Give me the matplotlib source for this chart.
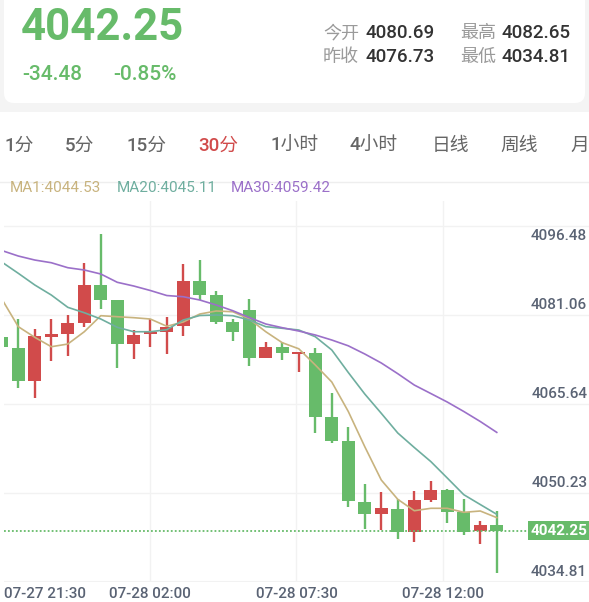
import matplotlib
matplotlib.use("Agg")
import matplotlib.pyplot as plt
from matplotlib.patches import Rectangle, FancyBboxPatch

plt.rcParams['font.family'] = ['Roboto', 'Noto Sans CJK SC', 'DejaVu Sans']

W, H = 589, 602

# 30-minute candles, oldest first
opens = [4076.13, 4074.21, 4068.39, 4076.13, 4076.55, 4078.57, 4085.16, 4082.49, 4074.85, 4076.55,
         4077.00, 4078.05, 4085.86, 4083.41, 4078.70, 4080.79, 4072.46, 4074.28, 4073.06, 4073.33,
         4062.05, 4057.86, 4047.31, 4045.22, 4046.09, 4042.07, 4047.56, 4049.30, 4045.46, 4042.25,
         4043.24]
closes = [4074.28, 4068.39, 4076.25, 4076.60, 4078.52, 4085.16, 4082.54, 4074.85, 4076.43, 4076.95,
          4077.82, 4085.86, 4083.41, 4078.75, 4076.90, 4072.36, 4074.28, 4073.28, 4073.46, 4062.16,
          4057.97, 4047.38, 4045.22, 4046.16, 4042.07, 4047.66, 4049.30, 4045.57, 4042.07, 4043.24,
          4042.25]
highs = [4076.13, 4079.17, 4077.47, 4079.27, 4079.92, 4088.95, 4094.01, 4082.49, 4077.25, 4079.17,
         4079.52, 4088.77, 4089.52, 4084.11, 4079.17, 4082.71, 4075.15, 4075.15, 4073.46, 4074.21,
         4066.24, 4060.31, 4050.35, 4049.01, 4047.73, 4049.18, 4050.93, 4049.48, 4047.78, 4043.89,
         4045.74]
lows = [4074.28, 4067.22, 4065.48, 4071.94, 4072.76, 4077.88, 4080.91, 4070.72, 4072.23, 4074.28,
        4073.06, 4076.25, 4082.49, 4078.35, 4075.43, 4071.06, 4072.46, 4072.01, 4070.02, 4059.26,
        4057.62, 4046.44, 4042.55, 4042.37, 4040.75, 4040.33, 4047.31, 4043.54, 4041.50, 4039.93,
        4034.81]

ma1 = [4082.71, 4077.88, 4076.02, 4074.38, 4074.85, 4077.00, 4079.80, 4079.62, 4079.45, 4079.22,
       4077.95, 4078.70, 4080.09, 4080.62, 4080.49, 4079.22, 4077.00, 4075.08, 4074.02, 4071.19,
       4068.22, 4063.07, 4056.92, 4051.10, 4047.73, 4045.74, 4046.16, 4046.16, 4045.46, 4045.69,
       4044.53]
ma20 = [4089.17, 4087.20, 4085.16, 4083.41, 4081.26, 4080.32, 4079.22, 4077.77, 4077.00, 4077.00,
        4077.35, 4079.05, 4079.83, 4079.92, 4079.80, 4079.05, 4077.88, 4077.60, 4077.30, 4076.13,
        4073.81, 4069.88, 4066.12, 4062.75, 4059.31, 4056.78, 4054.33, 4051.45, 4048.54, 4046.82,
        4045.11]
ma30 = [4091.18, 4090.22, 4089.52, 4089.05, 4088.18, 4087.78, 4087.08, 4085.63, 4084.98, 4084.20,
        4083.32, 4083.11, 4082.54, 4081.66, 4080.67, 4079.48, 4078.35, 4077.70, 4077.12, 4076.43,
        4075.55, 4074.54, 4073.11, 4071.54, 4069.67, 4067.69, 4066.21, 4064.72, 4063.07, 4061.32,
        4059.42]

last_price = 4042.25
grid_vals = [4095.46, 4079.92, 4064.38, 4048.83]
y_labels = ['4096.48', '4081.06', '4065.64', '4050.23', '4034.81']
x_grid = [8.98, 17.86, 26.74]
x_labels = ['07-27 21:30', '07-28 02:00', '07-28 07:30', '07-28 12:00']

tabs = ['1分', '5分', '15分', '30分', '1小时', '4小时', '日线', '周线', '月']
tab_x = [4, 65, 126, 198, 270, 350, 432, 500, 570]

RED = '#d14b4b'
GREEN = '#67bb6a'
C_MA1, C_MA20, C_MA30 = '#c8b37e', '#6fae9f', '#9b70c9'
AXIS_TXT = '#5a6374'

fig = plt.figure(figsize=(W / 100, H / 100), dpi=100, facecolor='white')

# background / header drawn in pixel coords
bg = fig.add_axes([0, 0, 1, 1])
bg.set_xlim(0, W)
bg.set_ylim(H, 0)
bg.axis('off')
bg.add_patch(Rectangle((0, 0), W, 112, fc='#f4f4f4', ec='none'))
bg.add_patch(FancyBboxPatch((4, -20), 581, 123, boxstyle='round,pad=0,rounding_size=10',
                            fc='white', ec='none'))

bg.text(21, 28, '4042.25', fontsize=31.5, fontweight='bold', color=GREEN, va='center', ha='left')
bg.text(22, 74, '-34.48', fontsize=15, fontweight='medium', color=GREEN, va='center')
bg.text(113, 74, '-0.85%', fontsize=15, fontweight='medium', color=GREEN, va='center')

stats = [('今开', '4080.69', 323, 33), ('最高', '4082.65', 460, 33),
         ('昨收', '4076.73', 323, 57), ('最低', '4034.81', 460, 57)]
for name, val, x, y in stats:
    bg.text(x, y, name, fontsize=13, color='#9a9a9a', va='center')
    bg.text(x + 42, y, val, fontsize=13.5, fontweight='medium', color='#333333', va='center')

for t, x in zip(tabs, tab_x):
    bg.text(x, 146, t, fontsize=13.5, fontweight='medium',
            color=RED if t == '30分' else '#666666', va='center')

bg.plot([0, W], [182, 182], color='#eeeeee', lw=1)
bg.text(10, 188, 'MA1:4044.53', fontsize=11, color=C_MA1, va='center')
bg.text(117, 188, 'MA20:4045.11', fontsize=11, color=C_MA20, va='center')
bg.text(231, 188, 'MA30:4059.42', fontsize=11, color=C_MA30, va='center')

# chart area
ax = fig.add_axes([4 / W, (H - 582) / H, (W - 4) / W, (582 - 201) / H])
ax.set_facecolor('none')
ax.set_xlim(0.133, 35.59)
ax.set_ylim(4033.29, 4099.83)
for s in ax.spines.values():
    s.set_visible(False)
ax.set_xticks([])
ax.set_yticks([])

for v in grid_vals:
    ax.axhline(v, color='#f2f2f2', lw=1, zorder=0)
ax.axhline(4033.29, color='#f2f2f2', lw=1.5, zorder=0)
for xg in x_grid:
    ax.axvline(xg, color='#f2f2f2', lw=1, zorder=0)

idx = list(range(len(opens)))
for i in idx:
    o, c = opens[i], closes[i]
    col = RED if c > o else GREEN
    ax.vlines(i, lows[i], highs[i], color=col, lw=1.7, zorder=2)
    ax.bar(i, max(abs(c - o), 0.35), bottom=min(o, c), width=0.79, color=col, zorder=3)

ax.plot(idx, ma1, color=C_MA1, lw=1.2, zorder=4)
ax.plot(idx, ma20, color=C_MA20, lw=1.2, zorder=4)
ax.plot(idx, ma30, color=C_MA30, lw=1.2, zorder=4)

ax.axhline(last_price, xmax=(531 - 4) / (W - 4), color=GREEN, lw=1.3, ls=(0, (1, 1.2)), zorder=5)
ax.annotate('4042.25', xy=(0.997, last_price), xycoords=('axes fraction', 'data'),
            ha='right', va='center', fontsize=11, fontweight='bold', color='white', zorder=6,
            bbox=dict(boxstyle='square,pad=0.15', fc=GREEN, ec='none'))

# price labels
ax.annotate(y_labels[0], xy=(0.997, grid_vals[0]), xycoords=('axes fraction', 'data'),
            xytext=(0, -2), textcoords='offset points', ha='right', va='top',
            fontsize=11, fontweight='medium', color=AXIS_TXT)
for lab, v in zip(y_labels[1:], grid_vals[1:] + [4033.29]):
    ax.annotate(lab, xy=(0.997, v), xycoords=('axes fraction', 'data'),
                xytext=(0, 2), textcoords='offset points', ha='right', va='bottom',
                fontsize=11, fontweight='medium', color=AXIS_TXT)

# time labels
ax.annotate(x_labels[0], xy=(0, 0), xycoords='axes fraction', xytext=(0, -9),
            textcoords='offset points', ha='left', va='center', fontsize=11,
            fontweight='medium', color=AXIS_TXT)
for lab, xg in zip(x_labels[1:], x_grid):
    ax.annotate(lab, xy=(xg, 0), xycoords=('data', 'axes fraction'), xytext=(0, -9),
                textcoords='offset points', ha='center', va='center', fontsize=11,
                fontweight='medium', color=AXIS_TXT)

fig.savefig('out.png', dpi=100, facecolor='white')
